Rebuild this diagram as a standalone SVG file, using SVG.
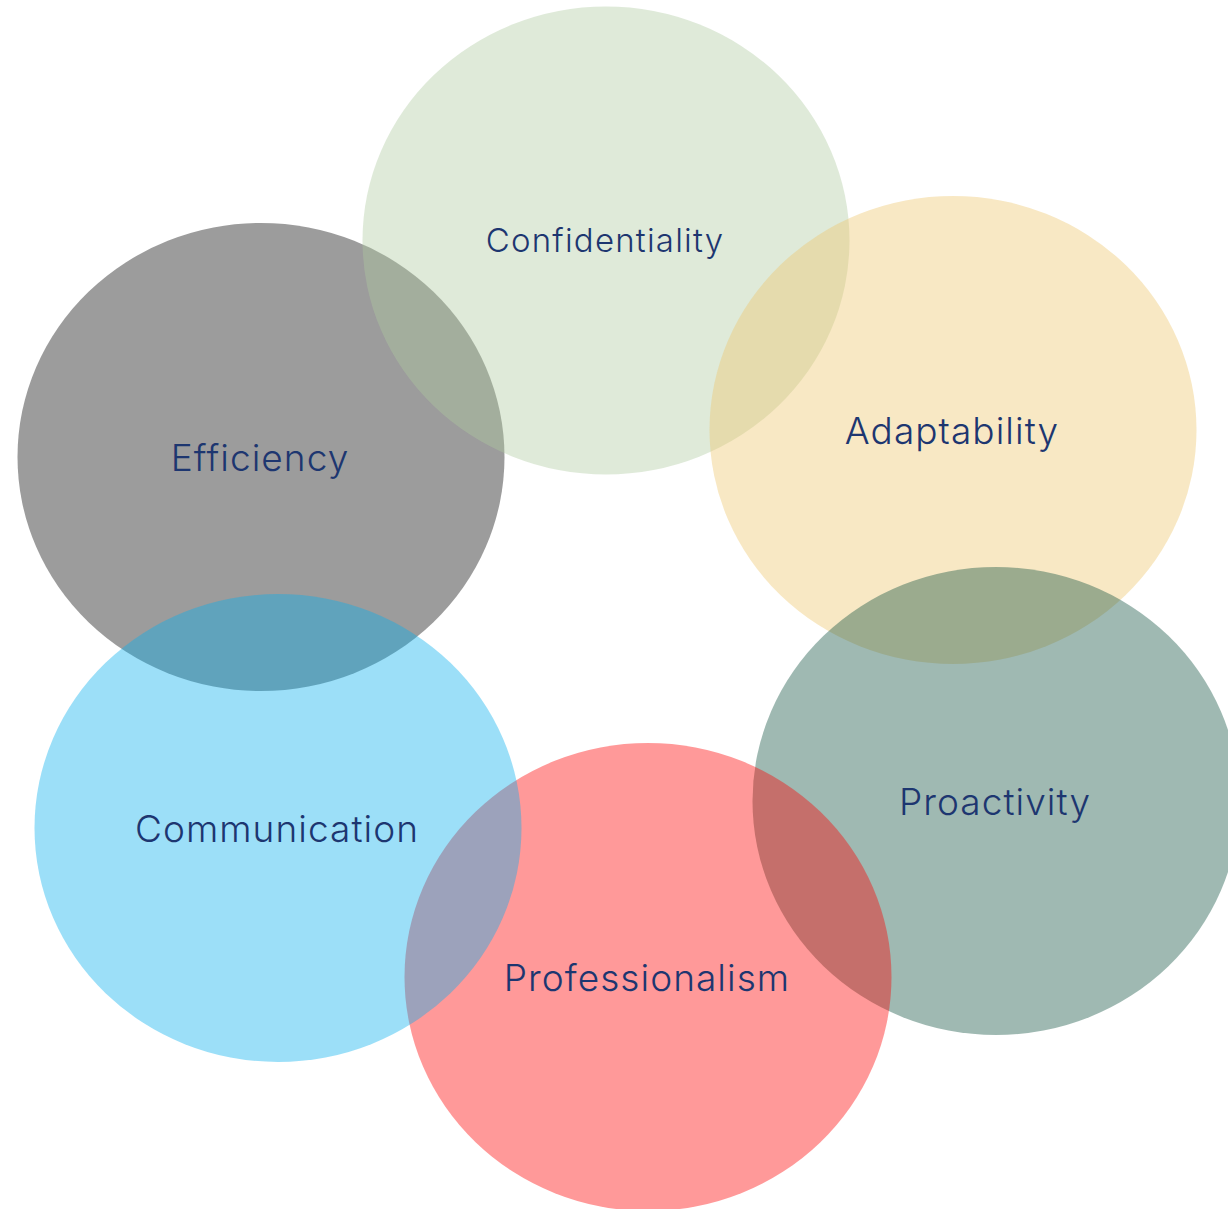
<svg xmlns="http://www.w3.org/2000/svg" width="1228" height="1209" viewBox="0 0 1228 1209">
  <style>
    .bubble { fill-opacity: 0.4; }
    .label { font-family: Inter, "Noto Sans", "Liberation Sans", sans-serif; font-weight: 300; fill: #1d3670; text-anchor: middle; dominant-baseline: central; font-size: 37px; letter-spacing: 1.05px; }
    .label.small { font-size: 33px; letter-spacing: 1.2px; }
  </style>
  <rect width="1228" height="1209" fill="#ffffff"/>
  <g id="efficiency">
    <ellipse class="bubble" cx="261" cy="457" rx="243.5" ry="234" fill="#080808"/>
    <text class="label" x="260" y="457">Efficiency</text>
  </g>
  <g id="confidentiality">
    <ellipse class="bubble" cx="606" cy="240.5" rx="243.5" ry="234" fill="#afcaa0"/>
    <text class="label small" x="605" y="240">Confidentiality</text>
  </g>
  <g id="adaptability">
    <ellipse class="bubble" cx="953" cy="430" rx="243.5" ry="234" fill="#eec56b"/>
    <text class="label" x="952" y="430">Adaptability</text>
  </g>
  <g id="proactivity">
    <ellipse class="bubble" cx="996" cy="801" rx="243.5" ry="234" fill="#0f503e"/>
    <text class="label" x="995" y="801">Proactivity</text>
  </g>
  <g id="professionalism">
    <ellipse class="bubble" cx="648" cy="977" rx="243.5" ry="234" fill="#ff0000"/>
    <text class="label" x="647" y="977">Professionalism</text>
  </g>
  <g id="communication">
    <ellipse class="bubble" cx="278" cy="828" rx="243.5" ry="234" fill="#08afee"/>
    <text class="label" x="277" y="828">Communication</text>
  </g>
  <g id="connectors"></g>
</svg>
